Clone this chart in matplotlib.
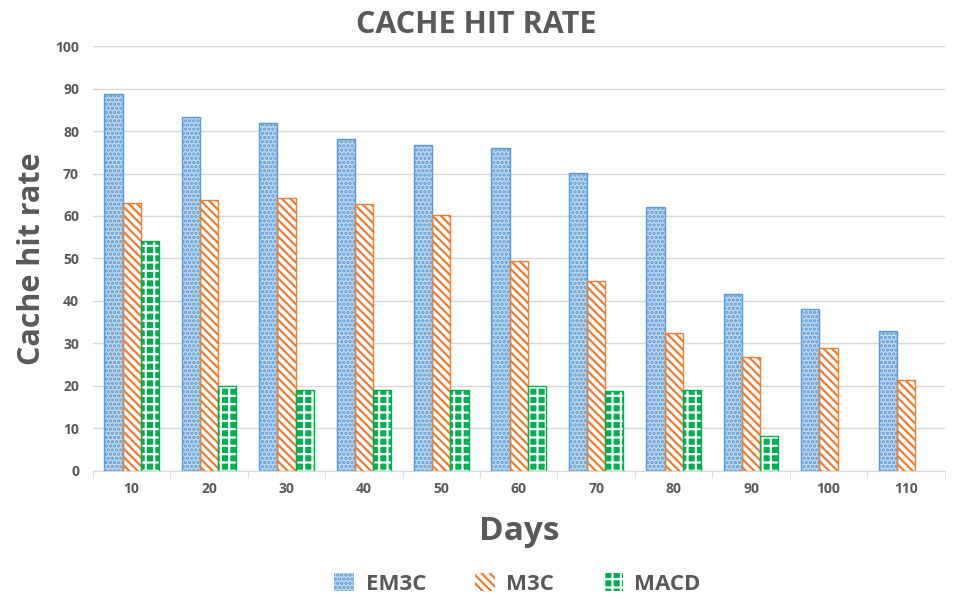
import matplotlib.pyplot as plt
from matplotlib.patches import Patch
import numpy as np

days = ["10", "20", "30", "40", "50", "60", "70", "80", "90", "100", "110"]
em3c = [88.8, 83.4, 82.0, 78.1, 76.7, 75.9, 70.2, 62.2, 41.6, 38.2, 33.0]
m3c = [63.1, 63.8, 64.3, 62.8, 60.2, 49.5, 44.6, 32.5, 26.9, 29.0, 21.3]
macd = [54.1, 20.0, 19.0, 19.0, 19.0, 20.0, 18.8, 19.0, 8.2, 0, 0]

plt.rcParams["font.family"] = ["Open Sans", "DejaVu Sans"]
plt.rcParams["hatch.linewidth"] = 1.6
text_color = "#595959"

fig = plt.figure(figsize=(9.58, 5.99), dpi=100)
ax = fig.add_axes([0.097, 0.214, 0.889, 0.709])

x = np.arange(len(days))
w = 0.235

series = [
    ("EM3C", em3c, -w, "#BDD7EE", "#5B9BD5", "...."),
    ("M3C", m3c, 0, "white", "#ED7D31", "\\\\\\\\"),
    ("MACD", macd, w, "#00B050", "white", "++"),
]
outline = {"EM3C": "#5B9BD5", "M3C": "#ED7D31", "MACD": "#00B050"}

handles = []
for name, vals, off, face, hcol, hatch in series:
    vals = np.array(vals, dtype=float)
    keep = vals > 0
    ax.bar(x[keep] + off, vals[keep], w, color=face, edgecolor=hcol, hatch=hatch,
           linewidth=0, zorder=2)
    ax.bar(x[keep] + off, vals[keep], w, fill=False, edgecolor=outline[name],
           linewidth=1.0, zorder=3)
    handles.append(Patch(facecolor=face, edgecolor=hcol, hatch=hatch, linewidth=0, label=name))

ax.set_xlim(-0.5, len(days) - 0.5)
ax.set_ylim(0, 100)
ax.set_yticks(range(0, 101, 10))
ax.set_xticks(x)
ax.set_xticklabels(days)
ax.set_xticks(np.arange(-0.5, len(days), 1), minor=True)
ax.tick_params(axis="x", which="major", length=0, pad=8)
ax.tick_params(axis="x", which="minor", length=5, color="#D9D9D9")
ax.tick_params(axis="y", length=0, pad=10)
for lab in ax.get_xticklabels() + ax.get_yticklabels():
    lab.set_color(text_color)
    lab.set_fontsize(10)
    lab.set_fontweight("bold")

ax.grid(axis="y", color="#D9D9D9", linewidth=1, zorder=0)
ax.set_axisbelow(True)
for s in ["top", "right", "left"]:
    ax.spines[s].set_visible(False)
ax.spines["bottom"].set_color("#D9D9D9")

fig.suptitle("CACHE HIT RATE", x=0.497, y=0.984, fontsize=22, fontweight="bold",
             color=text_color)
ax.set_ylabel("Cache hit rate", fontsize=22, fontweight="bold", color=text_color, labelpad=6)
ax.set_xlabel("Days", fontsize=24, fontweight="bold", color=text_color, labelpad=14)

fig.legend(handles=handles, loc="lower center", ncol=3, frameon=False,
           bbox_to_anchor=(0.54, -0.026), prop={"weight": "bold", "size": 16},
           handlelength=0.9, handleheight=0.9, columnspacing=2.2, handletextpad=0.5,
           labelcolor=text_color)

fig.savefig("out.png", dpi=100)
